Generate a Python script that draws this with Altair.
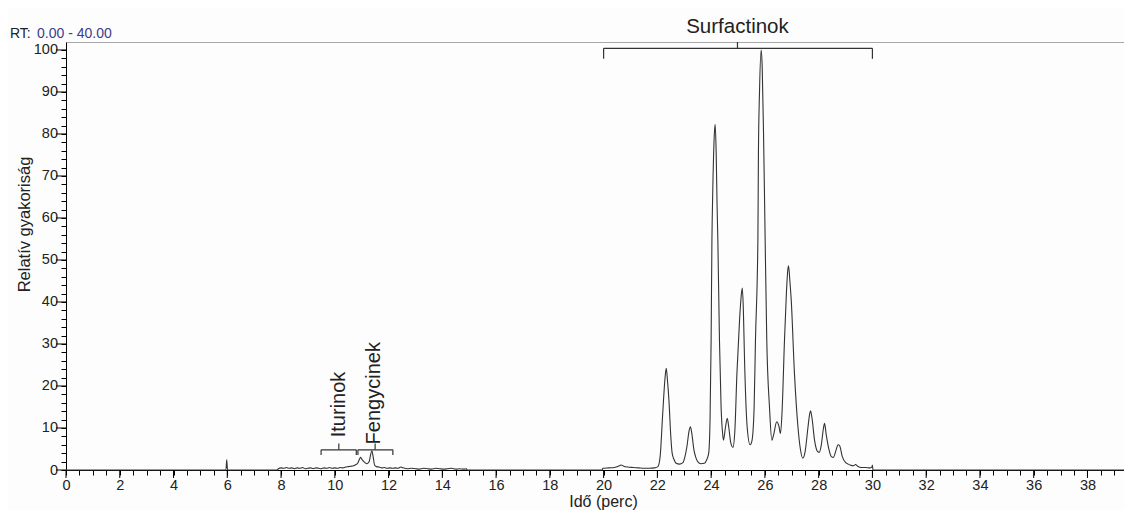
import altair as alt
import pandas as pd

# ---- chromatogram trace ----
time_min = [
    0.0, 5.95, 5.98, 6.01, 7.85,
    7.9, 8.0, 8.1, 8.2, 8.3, 8.4, 8.5, 8.6, 8.7, 8.8, 8.9, 9.0, 9.1, 9.2, 9.3,
    9.4, 9.5, 9.6, 9.7, 9.8, 9.9, 10.0, 10.1, 10.2, 10.3, 10.4, 10.5, 10.6, 10.7,
    10.78, 10.85, 10.92, 10.96, 11.02, 11.08, 11.13, 11.2, 11.28, 11.33, 11.38,
    11.43, 11.48, 11.55, 11.65, 11.75, 11.85, 11.95, 12.05, 12.15, 12.25, 12.35,
    12.45, 12.5, 12.6, 12.7, 12.85, 13.0, 13.15, 13.3, 13.45, 13.6, 13.75, 13.9,
    14.05, 14.2, 14.35, 14.5, 14.65, 14.8, 14.9, 14.92,
    19.95, 19.97, 20.2, 20.4, 20.55, 20.65, 20.75, 20.9, 21.1, 21.3, 21.5, 21.7,
    21.9, 22.02, 22.1, 22.2, 22.28, 22.33, 22.38, 22.43, 22.5, 22.55, 22.62, 22.7,
    22.82, 22.95, 23.02, 23.1, 23.18, 23.23, 23.28, 23.36, 23.43, 23.5, 23.62,
    23.75, 23.84, 23.91, 23.96, 24.0, 24.03, 24.06, 24.12, 24.15, 24.19, 24.22,
    24.25, 24.31, 24.37, 24.43, 24.46, 24.53, 24.6, 24.66, 24.73, 24.81, 24.88,
    24.96, 25.06, 25.12, 25.16, 25.2, 25.24, 25.34, 25.45, 25.52, 25.6, 25.65,
    25.74, 25.76, 25.8, 25.86, 25.9, 25.95, 25.99, 26.01, 26.07, 26.17, 26.26,
    26.33, 26.44, 26.52, 26.58, 26.64, 26.73, 26.8, 26.85, 26.88, 26.93, 26.98,
    27.1, 27.23, 27.32, 27.41, 27.5, 27.6, 27.67, 27.7, 27.75, 27.85, 27.95,
    28.02, 28.1, 28.18, 28.22, 28.28, 28.38, 28.47, 28.55, 28.65, 28.72, 28.78,
    28.88, 29.0, 29.1, 29.2, 29.3, 29.37, 29.45, 29.6, 29.75, 29.9, 29.98, 30.0,
    30.02, 39.36,
]
intensity = [
    0.0, 0.0, 2.4, 0.0, 0.0,
    0.3, 0.5, 0.4, 0.6, 0.4, 0.5, 0.3, 0.5, 0.4, 0.6, 0.3, 0.4, 0.5, 0.3, 0.5,
    0.4, 0.3, 0.5, 0.4, 0.6, 0.4, 0.5, 0.4, 0.6, 0.5, 0.7, 0.8, 0.9, 1.0,
    1.3, 1.6, 2.6, 3.0, 2.4, 2.0, 1.7, 1.5, 2.0, 3.6, 4.6,
    3.0, 1.2, 0.8, 0.7, 0.5, 0.6, 0.4, 0.5, 0.4, 0.5, 0.4,
    0.7, 0.6, 0.4, 0.3, 0.4, 0.3, 0.2, 0.4, 0.3, 0.2, 0.4, 0.3,
    0.2, 0.3, 0.4, 0.2, 0.3, 0.2, 0.3, 0.0,
    0.0, 0.4, 0.5, 0.6, 0.9, 1.2, 0.9, 0.7, 0.6, 0.5, 0.4, 0.4,
    0.5, 0.8, 3.0, 13.5, 21.5, 24.2, 21.0, 16.7, 8.0, 4.0, 2.5, 1.6,
    1.4, 1.75, 3.0, 5.6, 9.3, 10.3, 8.8, 4.8, 3.0, 2.0, 1.5,
    1.6, 2.5, 4.0, 12.0, 31.0, 54.8, 66.0, 80.0, 82.3, 75.0, 63.5,
    54.8, 31.0, 15.1, 8.5, 7.1, 10.0, 12.3, 10.0, 6.5, 5.4, 9.0,
    23.0, 36.0, 41.5, 43.3, 38.0, 27.0, 10.3, 6.0, 7.0, 15.0, 31.0,
    54.8, 75.4, 90.0, 100.0, 96.0, 80.0, 63.5, 54.8, 31.0, 15.1, 7.1,
    8.5, 11.5, 10.5, 8.7, 14.0, 31.0, 42.0, 47.5, 48.6, 45.0, 40.5,
    23.0, 10.3, 5.0, 2.8, 4.5, 10.0, 13.5, 14.1, 12.5, 7.0, 4.5,
    4.2, 6.0, 10.0, 11.1, 8.5, 5.0, 3.2, 3.0, 4.8, 6.0, 5.8,
    3.2, 1.8, 1.4, 1.1, 1.0, 1.3, 0.9, 0.6, 0.6, 0.5, 0.7, 1.2,
    0.0, 0.0,
]

# ---- annotation brackets ----
br_name = ["Iturinok", "Fengycinek", "Surfactinok"]
br_start = [9.49, 10.86, 20.0]
br_end = [10.8, 12.16, 30.0]
br_mid = [10.15, 11.5, 24.98]
br_level = [4.8, 4.8, 100.4]
br_tip_low = [3.6, 3.6, 97.9]
br_tip_high = [6.3, 6.3, 101.9]

# rotated labels (small groups) and horizontal label (surfactins)
rot_name = ["Iturinok", "Fengycinek"]
rot_x = [10.15, 11.47]
rot_y = [7.8, 6.1]
hor_name = ["Surfactinok"]
hor_x = [24.98]
hor_y = [104.1]

# ---- axes ----
x_ticks = [i * 0.5 for i in range(79)]
y_ticks = [i * 2 for i in range(51)]
X_MAX = 39.36
Y_MAX = 101.9

FONT = "Liberation Sans"
INK = "#222222"

trace = pd.DataFrame({"t": time_min, "v": intensity})
br = pd.DataFrame({"name": br_name, "start": br_start, "end": br_end, "mid": br_mid,
                   "level": br_level, "low": br_tip_low, "high": br_tip_high})
rot = pd.DataFrame({"name": rot_name, "x": rot_x, "y": rot_y})
hor = pd.DataFrame({"name": hor_name, "x": hor_x, "y": hor_y})

xscale = alt.Scale(domain=[0, X_MAX], nice=False, zero=False)
yscale = alt.Scale(domain=[0, Y_MAX], nice=False, zero=False)

x_axis = alt.Axis(
    values=x_ticks, title="Idő (perc)", grid=False, orient="bottom",
    labelExpr="datum.value % 2 === 0 ? format(datum.value, 'd') : ''",
    labelOverlap=False, labelFlush=False, labelFont=FONT, labelFontSize=14.5,
    labelColor=INK, labelPadding=3, tickSize=5,
    tickColor="#000", domainColor="#000",
    titleFont=FONT, titleFontSize=16, titleFontWeight="normal", titleColor=INK,
    titleX=537, titleY=36, titleBaseline="alphabetic",
)
y_axis = alt.Axis(
    values=y_ticks, title="Relatív gyakoriság", grid=False, orient="left",
    labelExpr="datum.value % 10 === 0 ? format(datum.value, 'd') : ''",
    labelOverlap=False, labelFlush=False, labelFont=FONT, labelFontSize=14.5,
    labelColor=INK, labelPadding=3.5, tickSize=5,
    tickColor="#000", domainColor="#000",
    titleFont=FONT, titleFontSize=16.5, titleFontWeight="normal", titleColor=INK,
    titleX=-34, titleY=182, titleAngle=270, titleBaseline="bottom",
)

line = alt.Chart(trace).mark_line(color="#333333", strokeWidth=1.1, interpolate="monotone").encode(
    x=alt.X("t:Q", scale=xscale, axis=x_axis),
    y=alt.Y("v:Q", scale=yscale, axis=y_axis),
)

# longer major ticks (every 10 on y, every 2 on x) drawn as short rules from the tick lists
major_y = pd.DataFrame({"v": [v for v in y_ticks if v % 10 == 0]})
major_x = pd.DataFrame({"t": [t for t in x_ticks if t % 2 == 0]})
maj_y = alt.Chart(major_y).mark_rule(color="#000", strokeWidth=1).encode(
    y=alt.Y("v:Q", scale=yscale, axis=None), x=alt.value(0), x2=alt.value(-10))
maj_x = alt.Chart(major_x).mark_rule(color="#000", strokeWidth=1).encode(
    x=alt.X("t:Q", scale=xscale, axis=None), y=alt.value(428), y2=alt.value(436))

bstyle = dict(color="#333333", strokeWidth=1.2)
b_h = alt.Chart(br).mark_rule(**bstyle).encode(
    x=alt.X("start:Q", scale=xscale, axis=None), x2="end:Q",
    y=alt.Y("level:Q", scale=yscale, axis=None))
b_l = alt.Chart(br).mark_rule(**bstyle).encode(
    x=alt.X("start:Q", scale=xscale, axis=None),
    y=alt.Y("level:Q", scale=yscale, axis=None), y2="low:Q")
b_r = alt.Chart(br).mark_rule(**bstyle).encode(
    x=alt.X("end:Q", scale=xscale, axis=None),
    y=alt.Y("level:Q", scale=yscale, axis=None), y2="low:Q")
b_m = alt.Chart(br).mark_rule(**bstyle).encode(
    x=alt.X("mid:Q", scale=xscale, axis=None),
    y=alt.Y("level:Q", scale=yscale, axis=None), y2="high:Q")

rot_text = alt.Chart(rot).mark_text(
    angle=270, align="left", baseline="middle", font=FONT, fontSize=20, color=INK
).encode(
    x=alt.X("x:Q", scale=xscale, axis=None),
    y=alt.Y("y:Q", scale=yscale, axis=None),
    text="name:N",
)
hor_text = alt.Chart(hor).mark_text(
    align="center", baseline="alphabetic", font=FONT, fontSize=20.5, color=INK
).encode(
    x=alt.X("x:Q", scale=xscale, axis=alt.Axis(orient="top", ticks=False, labels=False,
                                                title=None, grid=False, domainColor="#a8a8a8")),
    y=alt.Y("y:Q", scale=yscale, axis=None),
    text="name:N",
)

rt_df = pd.DataFrame({"a": ["RT:"], "b": ["0.00 - 40.00"]})
rt_a = alt.Chart(rt_df).mark_text(align="left", baseline="alphabetic", font=FONT,
                                  fontSize=14, color=INK).encode(
    x=alt.value(-56), y=alt.value(-4), text="a:N")
rt_b = alt.Chart(rt_df).mark_text(align="left", baseline="alphabetic", font=FONT,
                                  fontSize=14, color="#3c3c8c").encode(
    x=alt.value(-29), y=alt.value(-4), text="b:N")

chart = alt.layer(
    line, maj_y, maj_x, b_h, b_l, b_r, b_m, rot_text, hor_text, rt_a, rt_b
).resolve_axis(x="independent", y="independent").properties(
    width=1058, height=428,
    padding={"left": 58, "top": 34, "right": 0, "bottom": 40},
    autosize=alt.AutoSizeParams(type="none"),
).configure_view(
    stroke=None, fill="#f8f8f8"
).configure(background="#fdfdfd")

chart.save("out.html", embed_options={"renderer": "svg", "actions": False})
